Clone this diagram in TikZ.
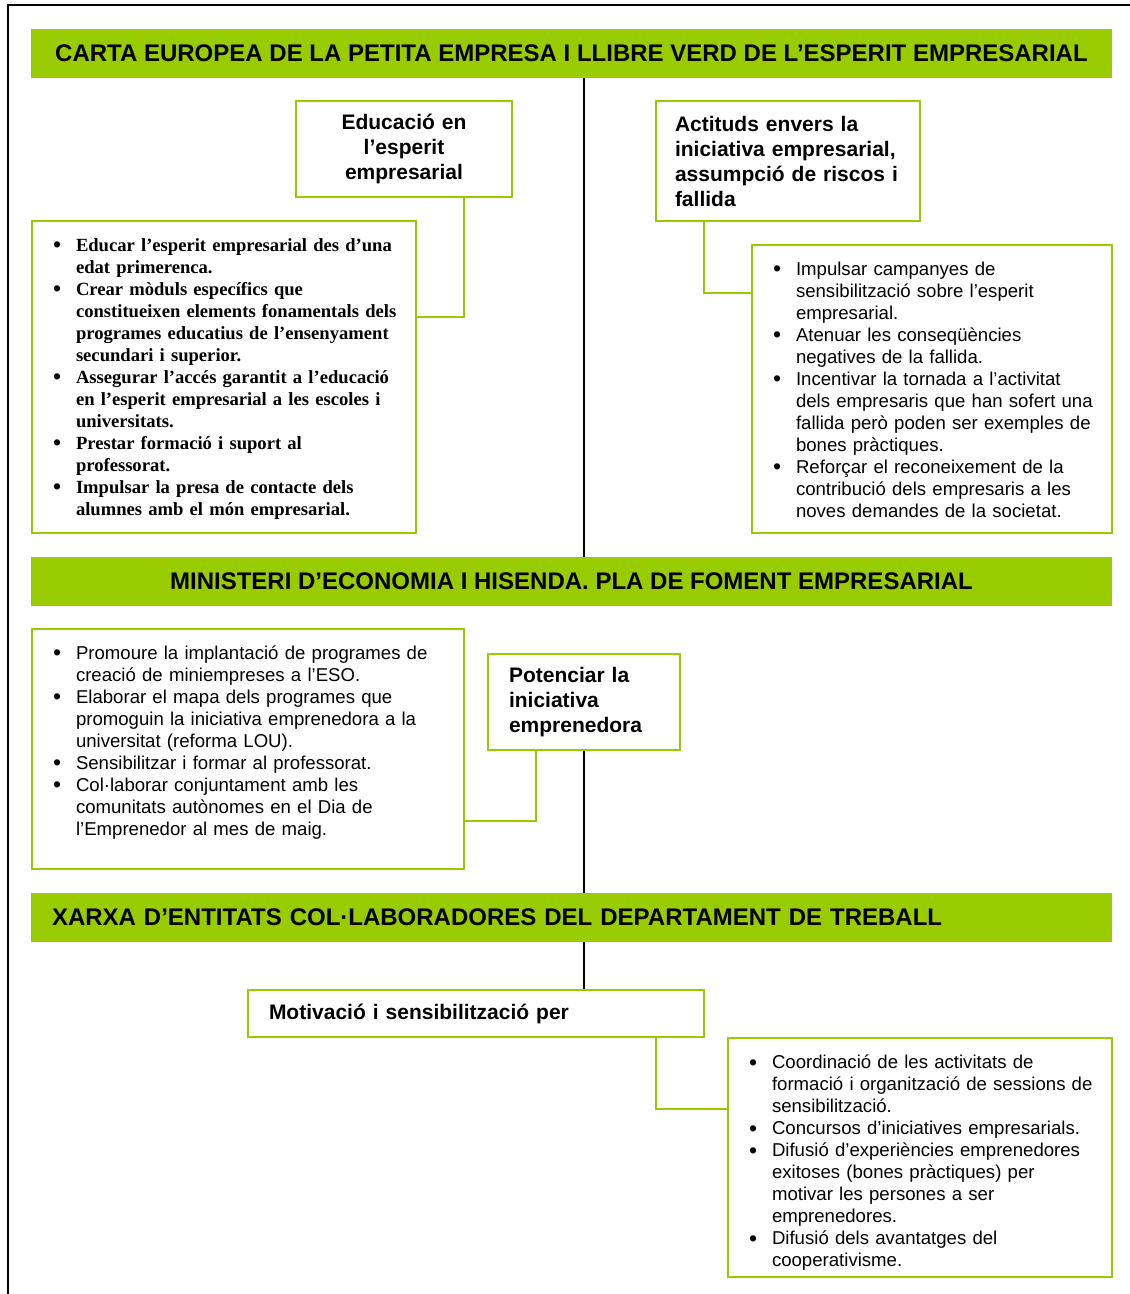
\documentclass[tikz,border=0pt]{standalone}
\usepackage{fontspec}
\setmainfont{Liberation Sans}
\newfontfamily\timesfont{Liberation Serif}
\usepackage{array}
\definecolor{fulla}{HTML}{99CC00}
\newcommand{\punt}{\raisebox{-1.5pt}{\fontsize{23}{22}\selectfont\textbullet}}

\begin{document}
\begin{tikzpicture}[x = 1pt, y = -1pt,
	banner/.style = {fill = fulla, minimum width = 1081pt, minimum height = 49pt, inner sep = 0pt, font = \bfseries\fontsize{24}{28}\selectfont},
	gbox/.style = {draw = fulla, line width = 2pt, inner ysep = 0pt, inner xsep = 21pt, align = left},
	head/.style = {gbox, font = \bfseries\fontsize{21}{25}\selectfont},
	llista/.style = {gbox, font = \fontsize{18.6}{22}\selectfont},
	enllac/.style = {draw = fulla, line width = 2pt},
	eix/.style = {draw = black, line width = 2pt}]
	\useasboundingbox (0,0) rectangle (1130,1294);
	% outer frame
	\draw[line width = 2.2pt] (8,1294) -- (8,5) -- (1130,5);
	
	% banners
	\node[banner] (carta) at (571.5,53.5) {CARTA EUROPEA DE LA PETITA EMPRESA I LLIBRE VERD DE L’ESPERIT EMPRESARIAL};
	\node[banner] (ministeri) at (571.5,581.5) {MINISTERI D’ECONOMIA I HISENDA. PLA DE FOMENT EMPRESARIAL};
	\node[banner, text width = 1039pt, inner xsep = 21pt, align = left] (xarxa) at (571.5,917.5) {XARXA D’ENTITATS COL·LABORADORES DEL DEPARTAMENT DE TREBALL};
	
	% spine
	\coordinate (eix) at (584,0);
	
	% carta europea
	\node[head, text width = 174pt, minimum height = 96pt, align = center] (educacio) at (404,149) {Educació en\\ l’esperit\\ empresarial};
	\node[head, text width = 226pt, inner xsep = 19pt, minimum height = 120pt] (actituds) at (788,161) {Actituds envers la\\ iniciativa empresarial,\\ assumpció de riscos i\\ fallida};
	\node[llista, text width = 342pt, minimum height = 312pt, font = \timesfont\bfseries\fontsize{18.6}{22}\selectfont] (educar) at (224,377) {\noindent\begin{tabular}{@{}p{23pt}@{}l@{}}
		\noalign{\vskip 4pt}
		\punt & Educar l’esperit empresarial des d’una\\
		& edat primerenca.\\
		\punt & Crear mòduls específics que\\
		& constitueixen elements fonamentals dels\\
		& programes educatius de l’ensenyament\\
		& secundari i superior.\\
		\punt & Assegurar l’accés garantit a l’educació\\
		& en l’esperit empresarial a les escoles i\\
		& universitats.\\
		\punt & Prestar formació i suport al\\
		& professorat.\\
		\punt & Impulsar la presa de contacte dels\\
		& alumnes amb el món empresarial.
	\end{tabular}};
	\node[llista, text width = 318pt, minimum height = 288pt] (campanyes) at (932,389) {\noindent\begin{tabular}{@{}p{23pt}@{}l@{}}
		\noalign{\vskip 6pt}
		\punt & Impulsar campanyes de\\
		& sensibilització sobre l’esperit\\
		& empresarial.\\
		\punt & Atenuar les conseqüències\\
		& negatives de la fallida.\\
		\punt & Incentivar la tornada a l’activitat\\
		& dels empresaris que han sofert una\\
		& fallida però poden ser exemples de\\
		& bones pràctiques.\\
		\punt & Reforçar el reconeixement de la\\
		& contribució dels empresaris a les\\
		& noves demandes de la societat.
	\end{tabular}};
	
	\coordinate (eduknee) at (464,317);
	\draw[enllac] (educacio.south -| eduknee) |- (educar.east |- eduknee);
	\coordinate (actknee) at (704,293);
	\draw[enllac] (actituds.south -| actknee) |- (campanyes.west |- actknee);
	\draw[eix] (carta.south -| eix) -- (ministeri.north -| eix);
	
	% ministeri
	\node[llista, text width = 390pt, minimum height = 240pt] (promoure) at (248,749) {\noindent\begin{tabular}{@{}p{23pt}@{}l@{}}
		\noalign{\vskip 4pt}
		\punt & Promoure la implantació de programes de\\
		& creació de miniempreses a l’ESO.\\
		\punt & Elaborar el mapa dels programes que\\
		& promoguin la iniciativa emprenedora a la\\
		& universitat (reforma LOU).\\
		\punt & Sensibilitzar i formar al professorat.\\
		\punt & Col·laborar conjuntament amb les\\
		& comunitats autònomes en el Dia de\\
		& l’Emprenedor al mes de maig.\\[16pt]
	\end{tabular}};
	\node[head, text width = 150pt, minimum height = 96pt] (potenciar) at (584,702) {Potenciar la\\ iniciativa\\ emprenedora};
	
	\coordinate (potknee) at (536,821);
	\draw[enllac] (potenciar.south -| potknee) |- (promoure.east |- potknee);
	\draw[eix] (potenciar.south) -- (xarxa.north -| eix);
	
	% xarxa
	\node[head, text width = 414pt, minimum height = 47pt] (motivacio) at (476,1013.5) {Motivació i sensibilització per};
	\node[llista, text width = 342pt, minimum height = 239pt] (coordinacio) at (920,1157.5) {\noindent\begin{tabular}{@{}p{23pt}@{}l@{}}
		\noalign{\vskip 12pt}
		\punt & Coordinació de les activitats de\\
		& formació i organització de sessions de\\
		& sensibilització.\\
		\punt & Concursos d’iniciatives empresarials.\\
		\punt & Difusió d’experiències emprenedores\\
		& exitoses (bones pràctiques) per\\
		& motivar les persones a ser\\
		& emprenedores.\\
		\punt & Difusió dels avantatges del\\
		& cooperativisme.
	\end{tabular}};
	
	\draw[eix] (xarxa.south -| eix) -- (motivacio.north -| eix);
	\coordinate (motknee) at (656,1109);
	\draw[enllac] (motivacio.south -| motknee) |- (coordinacio.west |- motknee);
\end{tikzpicture}
\end{document}
